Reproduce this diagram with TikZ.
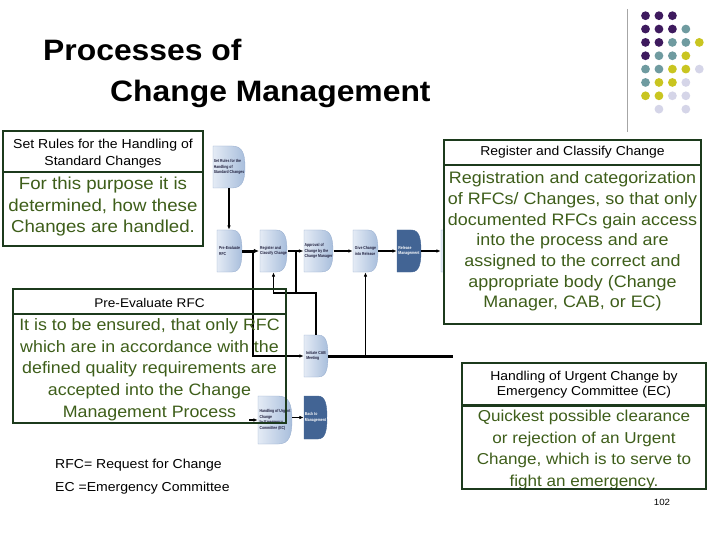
\documentclass[tikz,border=0pt]{standalone}
\usepackage{fontspec}
\setmainfont[FakeStretch=1.08]{Liberation Sans}
\newfontfamily\tinyfam[FakeStretch=0.8]{Liberation Sans}
\usetikzlibrary{arrows.meta,calc}
\definecolor{frame}{RGB}{28,58,28}
\definecolor{bodytxt}{RGB}{62,94,26}
\definecolor{dotP}{RGB}{62,26,94}
\definecolor{dotT}{RGB}{111,155,160}
\definecolor{dotY}{RGB}{201,197,32}
\definecolor{dotL}{RGB}{213,213,232}
\definecolor{boxL}{RGB}{228,235,245}
\definecolor{boxR}{RGB}{168,190,220}
\definecolor{boxE}{RGB}{150,172,205}
\definecolor{boxD}{RGB}{66,100,148}
\definecolor{tinytxt}{RGB}{30,30,60}
\newcommand\fsz[2]{\fontsize{#1}{#2}\selectfont}
\newcommand\procbox[8]{%
  \path[#6] (#2,#3) -- ({#2+0.6*#4},#3)
    .. controls ({#2+0.93*#4},#3) and ({#2+#4},{#3+0.2*#5}) .. ({#2+#4},{#3+0.5*#5})
    .. controls ({#2+#4},{#3+0.8*#5}) and ({#2+0.93*#4},{#3+#5}) .. ({#2+0.6*#4},{#3+#5})
    -- (#2,{#3+#5}) -- cycle;
  \node[tiny, text=#8, minimum width=#4pt, minimum height=#5pt] (#1) at ({#2+0.5*#4},{#3+0.5*#5}) {#7};
}
\begin{document}
\begin{tikzpicture}[x=1pt,y=-1pt,
  bigframe/.style={draw=frame, line width=2.4pt},
  headtxt/.style={inner sep=0pt, align=center, text=black},
  bodyt/.style={inner sep=0pt, align=center, text=bodytxt},
  tiny/.style={inner sep=1pt, align=left, font=\tinyfam\bfseries\fsz{4.3}{5.6}},
  lightbox/.style={left color=boxL, right color=boxR, draw=boxE, line width=0.3pt},
  darkbox/.style={fill=boxD, draw=boxD},
  flow/.style={-{Latex[length=4.5pt,width=3.6pt]}, line width=1.3pt},
  thickflow/.style={-{Latex[length=5pt,width=4.5pt]}, line width=3pt},
  plain/.style={line width=1.3pt}
]
\useasboundingbox (0,0) rectangle (720,540);

% decorative dots
\foreach \c/\r/\col in {0/0/dotP,1/0/dotP,2/0/dotP,
  0/1/dotP,1/1/dotP,2/1/dotP,3/1/dotT,
  0/2/dotP,1/2/dotP,2/2/dotT,3/2/dotT,4/2/dotY,
  0/3/dotP,1/3/dotT,2/3/dotT,3/3/dotY,
  0/4/dotT,1/4/dotT,2/4/dotY,3/4/dotY,4/4/dotL,
  0/5/dotT,1/5/dotY,2/5/dotY,3/5/dotL,
  0/6/dotY,1/6/dotY,2/6/dotL,3/6/dotL,
  1/7/dotL,3/7/dotL}
  \fill[\col] ({645.5+13.45*\c},{15.7+13.35*\r}) circle (4.4pt);
\draw[gray!70, line width=0.8pt] (627,9) -- (627,132);

% title
\node[anchor=base west, inner sep=0pt, font=\fsz{29.5}{32}\bfseries] (t1) at (43,61) {Processes of};
\node[anchor=base west, inner sep=0pt, font=\fsz{29.5}{32}\bfseries] (t2) at (110,101.7) {Change Management};

% Set Rules box
\draw[bigframe, fill=white] (3,131) rectangle (203,246);
\draw[bigframe] (3,172) -- (203,172);
\node[headtxt, font=\fsz{13}{17}] (srh) at (103,153.5) {Set Rules for the Handling of\\Standard Changes};
\node[bodyt, font=\fsz{17.3}{21.5}] (srb) at (103,207) {For this purpose it is\\determined, how these\\Changes are handled.};

% small process diagram
\procbox{setr}{213}{146}{32}{42}{lightbox}{Set Rules for the\\Handling of\\Standard Changes}{tinytxt}
\procbox{pre}{217}{230}{25}{42}{lightbox}{Pre-Evaluate\\RFC}{tinytxt}
\procbox{reg}{260}{230}{27}{42}{lightbox}{Register and\\Classify Change}{tinytxt}
\procbox{appr}{304}{230}{29}{42}{lightbox}{Approval of\\Change by the\\Change Manager}{tinytxt}
\procbox{give}{353}{230}{25}{42}{lightbox}{Give Change\\into Release}{tinytxt}
\procbox{rel}{397}{230}{24}{42}{darkbox}{Release\\Management}{white}
\procbox{six}{441}{230}{25}{42}{lightbox}{}{tinytxt}
\procbox{cab}{304}{335}{24}{42}{lightbox}{Initiate CAB\\Meeting}{tinytxt}
\procbox{urg}{258}{396}{34}{48}{lightbox}{Handling of Urgent\\Change\\by Emergency\\Committee (EC)}{tinytxt}
\procbox{back}{304}{396}{23}{43}{darkbox}{Back to\\Management}{white}

\coordinate (j1) at (253,251);
\coordinate (j2) at (296,251);
\coordinate (jh) at (296,293);
\coordinate (e1) at (453,356);
\coordinate (e2) at (453,418);
\coordinate (s3) at (249,420);

\draw[flow] (setr.south) -- (setr.south |- pre.north);
\draw[thickflow] (pre.east) -- (reg.west);
\draw[flow] (reg.east) -- (appr.west);
\draw[flow, line width=1.6pt] (appr.east) -- (give.west);
\draw[flow, line width=1.8pt] (give.east) -- (rel.west);
\draw[flow, line width=1.8pt] (rel.east) -- (six.west);
\draw[flow] (j1) |- (cab.west);
\draw[flow] (cab.north) |- (reg.south |- jh) -- (reg.south);
\draw[plain] (j2) -- (jh);
\draw[line width=3pt] (cab.east) -- (e1);
\draw[flow] (e1 -| give.south) -- (give.south);
\draw[flow] (s3) -- (urg.west);
\draw[flow, line width=1pt] (urg.east |- back.west) -- (back.west);
\draw[double=white, double distance=1.2pt, line width=0.7pt, draw=gray!80!black] (back.east |- e2) -- (e2);

% Pre-Evaluate box (transparent)
\draw[bigframe] (13,289) rectangle (286,423);
\draw[bigframe] (13,314) -- (286,314);
\node[headtxt, font=\fsz{12.6}{16}] (peh) at (149.5,302.5) {Pre-Evaluate RFC};
\node[bodyt, font=\fsz{16.5}{21.7}] (peb) at (149.5,369.5) {It is to be ensured, that only RFC\\which are in accordance with the\\defined quality requirements are\\accepted into the Change\\Management Process};

% Register box
\draw[bigframe, fill=white] (444,140) rectangle (701,324);
\draw[bigframe] (444,165) -- (701,165);
\node[headtxt, font=\fsz{12.9}{16}] (rch) at (572.5,152.5) {Register and Classify Change};
\node[bodyt, font=\fsz{16.6}{20.7}] (rcb) at (572.5,241.5) {Registration and categorization\\of RFCs/ Changes, so that only\\documented RFCs gain access\\into the process and are\\assigned to the correct and\\appropriate body (Change\\Manager, CAB, or EC)};

% Urgent box
\draw[bigframe, fill=white] (462,363) rectangle (706,489);
\node[bodyt, font=\fsz{15.8}{21.5}] (ucb) at (584,450) {Quickest possible clearance\\or rejection of an Urgent\\Change, which is to serve to\\fight an emergency.};
\draw[bigframe] (462,489) -- (706,489);
\draw[bigframe] (462,405.5) -- (706,405.5);
\node[headtxt, font=\fsz{12.9}{15}] (uch) at (584,385) {Handling of Urgent Change by\\Emergency Committee (EC)};

% footnotes
\node[anchor=west, inner sep=0pt, font=\fsz{13}{15}] (fn1) at (55,465) {RFC= Request for Change};
\node[anchor=west, inner sep=0pt, font=\fsz{13}{15}] (fn2) at (55,488.5) {EC =Emergency Committee};
\node[inner sep=0pt, font=\fsz{9}{10}] (pg) at (662,502) {102};
\end{tikzpicture}
\end{document}
